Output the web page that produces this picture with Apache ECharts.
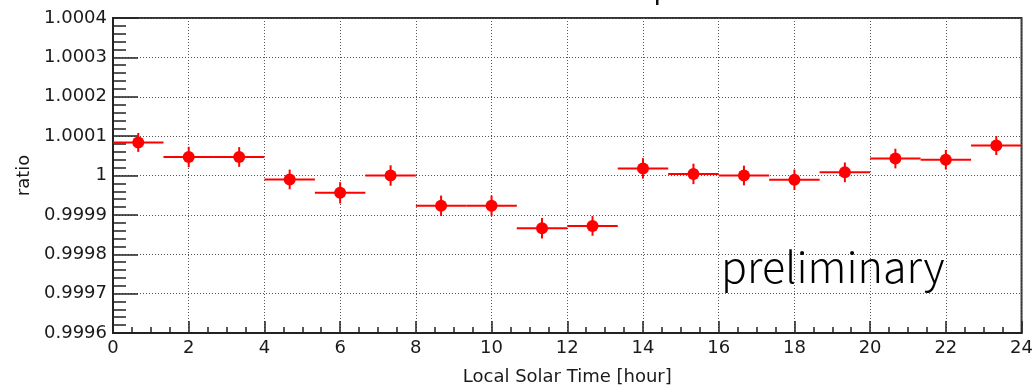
<!DOCTYPE html>
<html>
<head>
<meta charset="utf-8">
<script src="https://cdn.jsdelivr.net/npm/echarts@6/dist/echarts.min.js"></script>
<style>
  html, body { margin: 0; padding: 0; background: #ffffff; }
  #chart { width: 1036px; height: 391px; }
</style>
</head>
<body>
<div id="chart"></div>
<script>
// Local solar time bins (hours): centre of each of the 18 bins
const binCenters = [0.667, 2.0, 3.333, 4.667, 6.0, 7.333, 8.667, 10.0, 11.333,
                    12.667, 14.0, 15.333, 16.667, 18.0, 19.333, 20.667, 22.0, 23.333];
const binWidth = 1.3333;
// Measured ratio in each bin
const ratioValues = [1.000084, 1.000047, 1.000047, 0.999990, 0.999956, 1.000000,
                     0.999923, 0.999923, 0.999866, 0.999872, 1.000018, 1.000004,
                     1.000000, 0.999989, 1.000008, 1.000043, 1.000040, 1.000076];
// Statistical uncertainty on each ratio
const ratioErrors = [0.000024, 0.000026, 0.000025, 0.000025, 0.000027, 0.000026,
                     0.000026, 0.000026, 0.000026, 0.000025, 0.000026, 0.000026,
                     0.000025, 0.000026, 0.000025, 0.000025, 0.000025, 0.000024];
const xTicks = [0, 2, 4, 6, 8, 10, 12, 14, 16, 18, 20, 22, 24];
const yTicks = [0.9996, 0.9997, 0.9998, 0.9999, 1, 1.0001, 1.0002, 1.0003, 1.0004];

const points = binCenters.map((x, i) => [x, ratioValues[i], ratioErrors[i]]);

const RED = '#ff0000';
const AXIS = '#222222';
const FONT = 'DejaVu Sans';

const chart = echarts.init(document.getElementById('chart'), null, { renderer: 'canvas' });

function renderPoint(params, api) {
  const x = api.value(0), y = api.value(1), e = api.value(2);
  const hw = binWidth / 2;
  const l = api.coord([x - hw, y]);
  const r = api.coord([x + hw, y]);
  const lo = api.coord([x, y - e]);
  const hi = api.coord([x, y + e]);
  const c = api.coord([x, y]);
  const lineStyle = { stroke: RED, lineWidth: 2 };
  return {
    type: 'group',
    children: [
      { type: 'line', shape: { x1: l[0], y1: l[1], x2: r[0], y2: r[1] }, style: lineStyle },
      { type: 'line', shape: { x1: lo[0], y1: lo[1], x2: hi[0], y2: hi[1] }, style: lineStyle },
      { type: 'circle', shape: { cx: c[0], cy: c[1], r: 6 }, style: { fill: RED } }
    ]
  };
}

chart.setOption({
  backgroundColor: '#ffffff',
  animation: false,
  grid: {
    left: 113, right: 11, top: 18, bottom: 56,
    show: true, borderColor: '#333333', borderWidth: 2, backgroundColor: 'transparent'
  },
  xAxis: {
    type: 'value',
    min: xTicks[0], max: xTicks[xTicks.length - 1], interval: 2,
    name: 'Local Solar Time [hour]',
    nameLocation: 'middle', nameGap: 35,
    nameTextStyle: { fontFamily: FONT, fontSize: 18, color: '#1a1a1a' },
    axisLine: { show: true, onZero: false, lineStyle: { color: AXIS, width: 2 } },
    axisTick: { show: true, inside: true, length: 12, lineStyle: { color: AXIS, width: 1.5 } },
    minorTick: { show: true, splitNumber: 4, length: 6, lineStyle: { color: AXIS, width: 1.5 } },
    axisLabel: {
      fontFamily: FONT, fontSize: 18, color: '#1a1a1a', margin: 6,
      showMinLabel: true, showMaxLabel: true,
      formatter: v => String(v)
    },
    splitLine: { show: true, lineStyle: { color: '#555555', width: 1, type: [1, 2] } }
  },
  yAxis: {
    type: 'value',
    min: yTicks[0], max: yTicks[yTicks.length - 1], interval: 0.0001,
    name: 'ratio',
    nameLocation: 'middle', nameGap: 72, nameRotate: 90,
    nameTextStyle: { fontFamily: FONT, fontSize: 18, color: '#1a1a1a' },
    axisLine: { show: true, onZero: false, lineStyle: { color: AXIS, width: 2 } },
    axisTick: { show: true, inside: true, length: 25, lineStyle: { color: AXIS, width: 1.5 } },
    minorTick: { show: true, splitNumber: 5, length: 13, lineStyle: { color: AXIS, width: 1.5 } },
    axisLabel: {
      fontFamily: FONT, fontSize: 18, color: '#1a1a1a', margin: 6,
      showMinLabel: true, showMaxLabel: true,
      formatter: v => String(parseFloat(Number(v).toFixed(4)))
    },
    splitLine: { show: true, lineStyle: { color: '#555555', width: 1, type: [1, 2] } }
  },
  series: [{
    type: 'custom',
    renderItem: renderPoint,
    encode: { x: 0, y: 1 },
    data: points,
    z: 5
  }],
  graphic: [
    {
      type: 'text',
      left: 721, top: 245,
      style: {
        text: 'preliminary',
        font: '300 43px "Noto Sans CJK SC"',
        fill: '#000000'
      },
      z: 10
    },
    {
      // descender of the page heading running off the top edge
      type: 'rect',
      shape: { x: 656, y: 0, width: 2.5, height: 5 },
      style: { fill: '#111111' }
    }
  ]
});
</script>
</body>
</html>
